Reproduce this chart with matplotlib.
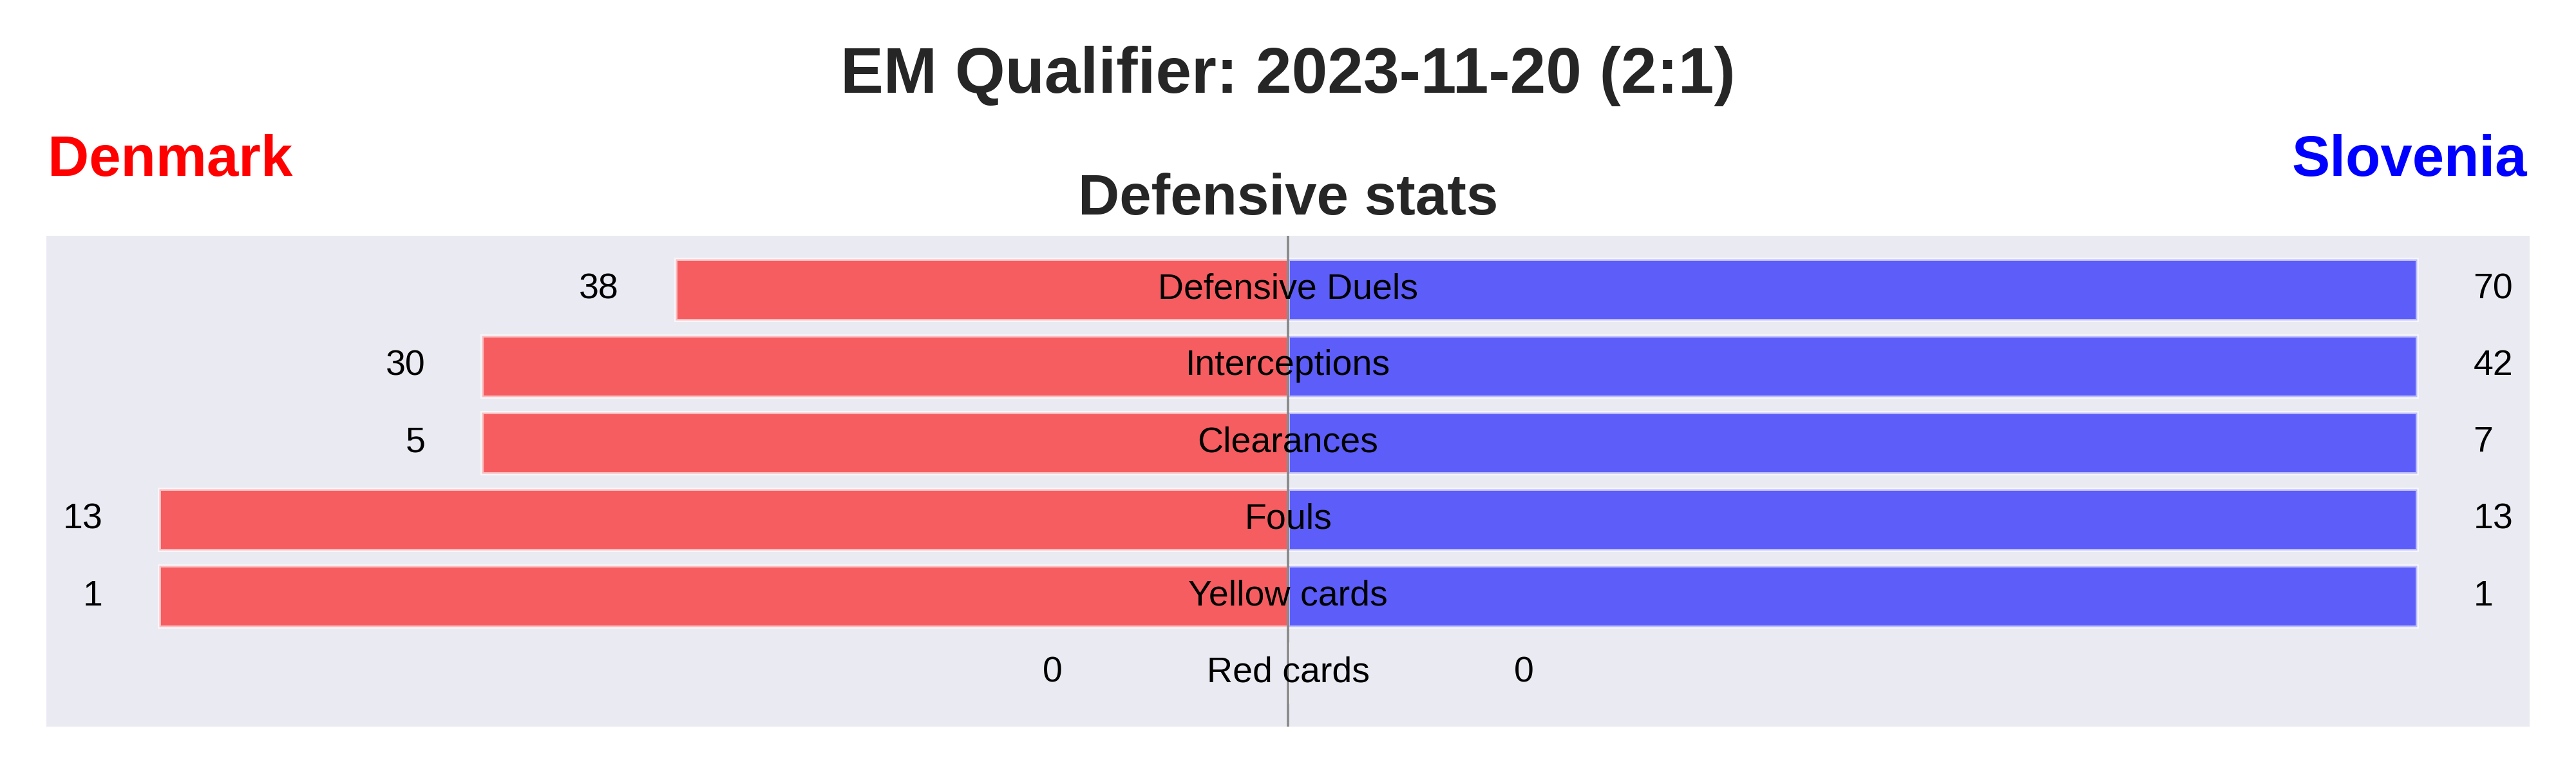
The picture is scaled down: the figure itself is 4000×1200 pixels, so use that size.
import matplotlib
matplotlib.use('Agg')
import matplotlib.pyplot as plt
import numpy as np

plt.rcParams['font.family'] = ['Liberation Sans', 'DejaVu Sans']

TITLE = 'EM Qualifier: 2023-11-20 (2:1)'
SUBTITLE = 'Defensive stats'
HOME_TEAM = 'Denmark'
AWAY_TEAM = 'Slovenia'
HOME_COLOR = 'red'
AWAY_COLOR = 'blue'
BG_COLOR = '#EAEAF2'
TEXT_COLOR = '#262626'

stats = ['Defensive Duels', 'Interceptions', 'Clearances', 'Fouls', 'Yellow cards', 'Red cards']
home_values = [38, 30, 5, 13, 1, 0]
away_values = [70, 42, 7, 13, 1, 0]

# label offset from bar end (in normalised units), and minimum label position
LABEL_PAD = 0.05
MIN_LABEL_POS = 0.15


def normalise(home, away):
    home = np.array(home, dtype=float)
    away = np.array(away, dtype=float)
    top = np.maximum(home, away)
    top[top == 0] = 1
    return home / top, away / top


fig = plt.figure(figsize=(20, 6), dpi=200)
ax = fig.add_axes([0.018, 0.06, 0.964, 0.635])
ax.set_facecolor(BG_COLOR)

home_len, away_len = normalise(home_values, away_values)
ypos = np.arange(len(stats))

ax.barh(ypos, -home_len, height=0.8, color=HOME_COLOR, alpha=0.6,
        edgecolor='white', linewidth=1.8)
ax.barh(ypos, away_len, height=0.8, color=AWAY_COLOR, alpha=0.6,
        edgecolor='white', linewidth=1.8)

ax.axvline(0, color='grey', lw=1.4, alpha=0.9, zorder=2.5)

for y, name, hv, av, hl, al in zip(ypos, stats, home_values, away_values, home_len, away_len):
    ax.text(0, y, name, ha='center', va='center', fontsize=20, color='black', zorder=4)
    ax.text(-(max(hl, MIN_LABEL_POS) + LABEL_PAD), y, str(hv), ha='right', va='center',
            fontsize=20, color='black')
    ax.text(max(al, MIN_LABEL_POS) + LABEL_PAD, y, str(av), ha='left', va='center',
            fontsize=20, color='black')

ax.set_xlim(-1.1, 1.1)
ax.set_ylim(len(stats) - 0.3, -0.7)
ax.set_xticks([])
ax.set_yticks([])
for s in ax.spines.values():
    s.set_visible(False)

fig.text(0.5, 0.88, TITLE, ha='center', va='baseline', fontsize=36,
         fontweight='bold', color=TEXT_COLOR)
fig.text(0.0185, 0.7725, HOME_TEAM, ha='left', va='baseline', fontsize=32,
         fontweight='bold', color=HOME_COLOR)
fig.text(0.981, 0.7725, AWAY_TEAM, ha='right', va='baseline', fontsize=32,
         fontweight='bold', color=AWAY_COLOR)
fig.text(0.5, 0.7225, SUBTITLE, ha='center', va='baseline', fontsize=32,
         fontweight='bold', color=TEXT_COLOR)

fig.savefig('out.png', dpi=200, facecolor='white')
